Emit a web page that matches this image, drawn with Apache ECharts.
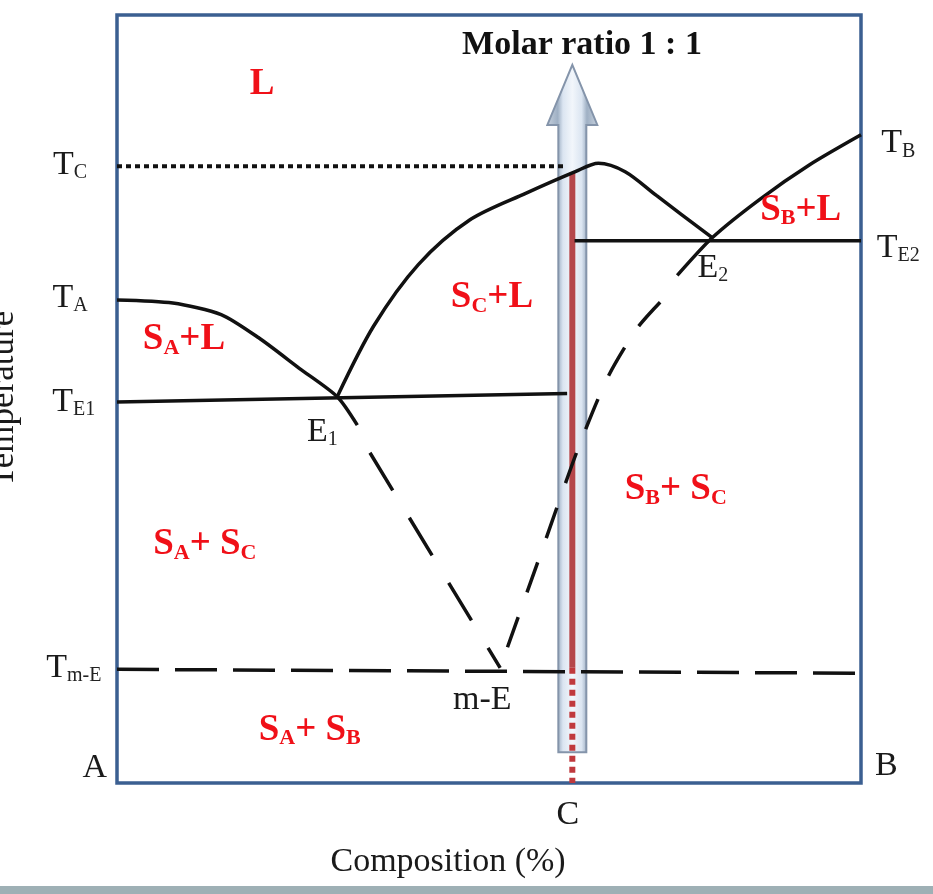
<!DOCTYPE html>
<html><head><meta charset="utf-8">
<script src="https://cdn.jsdelivr.net/npm/echarts@6/dist/echarts.min.js"></script>
<style>html,body{margin:0;padding:0;background:#fff}#c{width:933px;height:894px}</style>
</head><body><div id="c"></div>
<script>
// Composition (x, 0-100 %) vs temperature (y, arbitrary 0-100)
const liquidusA = [[0,62.9],[7.5,62.5],[14,61.0],[19,58.0],[24.5,54.0],[29.6,50.3],[32.3,46.6]];
const liquidusC = [[29.6,50.3],[34.5,59.5],[40.5,67.5],[47.4,73.3],[55,76.8],[61.6,79.6],[64.7,80.7],[68.3,79.6],[72.5,76.5],[80.0,71.0]];
const liquidusB = [[75.3,66.1],[80.0,71.0],[86.4,76.0],[93.1,80.5],[100,84.4]];
const metastableA = [[34.0,43.0],[51.5,15.0]];
const metastableB = [[73.0,62.6],[69.9,59.2],[65.9,52.7],[61.8,43.1],[56.9,29.7],[51.5,15.0]];
const eutecticE1 = [[0,49.6],[60.5,50.7]];
const eutecticE2 = [[61.5,70.6],[100,70.6]];
const meltingC = [[0,80.3],[60.3,80.3]];
const metaEutectic = [[0,14.8],[100,14.3]];
const compositionC = 61.2;
const redSolid = [[compositionC,79.5],[compositionC,15.0]];
const redDotted = [[compositionC,15.0],[compositionC,0]];
const arrowSpan = [[compositionC,4.0,93.5]];

const serif = '"Liberation Serif","Times New Roman",serif';
const RED = '#f01018';
const black = {t:{fontFamily:serif,fontSize:34,color:'#1a1a1a'}, s:{fontFamily:serif,fontSize:20,color:'#222',padding:[16,0,0,0]}};
const redR = {t:{fontFamily:serif,fontSize:37,fontWeight:'bold',color:RED}, s:{fontFamily:serif,fontSize:22,fontWeight:'bold',color:RED,padding:[17,0,0,0]}};

// annotation texts: [text, x, y, rich style]
const annotations = [
  ['{t|L}', 19.5, 90.9, redR],
  ['{t|S}{s|A}{t|+L}', 9.0, 57.7, redR],
  ['{t|S}{s|C}{t|+L}', 50.4, 63.2, redR],
  ['{t|S}{s|B}{t|+L}', 91.9, 74.6, redR],
  ['{t|S}{s|A}{t|+ S}{s|C}', 11.8, 31.0, redR],
  ['{t|S}{s|B}{t|+ S}{s|C}', 75.1, 38.2, redR],
  ['{t|S}{s|A}{t|+ S}{s|B}', 25.9, 6.9, redR],
  ['{t|E}{s|1}', 27.6, 45.7, black],
  ['{t|E}{s|2}', 80.1, 67.1, black],
  ['{t|m-E}', 49.1, 10.8, black],
  ['{t|T}{s|C}', -6.3, 80.5, black],
  ['{t|T}{s|A}', -6.3, 63.2, black],
  ['{t|T}{s|E1}', -5.8, 49.6, black],
  ['{t|T}{s|m-E}', -5.8, 15.0, black],
  ['{t|A}', -3.0, 2.0, black],
  ['{t|B}', 103.4, 2.2, black],
  ['{t|T}{s|B}', 105.0, 83.3, black],
  ['{t|T}{s|E2}', 105.0, 69.7, black],
  ['{t|C}', 60.6, -4.2, black],
  ['{t|Composition (%)}', 44.5, -10.3, black]
];

const chart = echarts.init(document.getElementById('c'), null, {renderer:'canvas'});
function lineS(data, opt){
  return Object.assign({type:'line', data, symbol:'none', silent:true, z:5, animation:false,
    lineStyle:{color:'#111', width:3.5}}, opt||{});
}
const hidden = {type:'scatter', clip:false, silent:true, z:10, symbol:'circle', symbolSize:0,
  itemStyle:{color:'rgba(0,0,0,0)', opacity:1}, animation:false};
const series = [
  {type:'custom', data:arrowSpan, z:1, silent:true, animation:false,
   renderItem(params, api){
     const top = api.coord([api.value(0), api.value(2)]);
     const bot = api.coord([api.value(0), api.value(1)]);
     const x = top[0], sw=14, hw=25, hh=60;
     return {type:'polygon', shape:{points:[[x,top[1]],[x+hw,top[1]+hh],[x+sw,top[1]+hh],[x+sw,bot[1]],[x-sw,bot[1]],[x-sw,top[1]+hh],[x-hw,top[1]+hh]]},
       style:{fill:{type:'linear',x:0,y:0,x2:1,y2:0,colorStops:[
         {offset:0,color:'#c8d2de'},{offset:0.22,color:'#9fb0c4'},{offset:0.32,color:'#dbe5f1'},
         {offset:0.5,color:'#f2f6fb'},{offset:0.68,color:'#dbe5f1'},{offset:0.78,color:'#9fb0c4'},{offset:1,color:'#c8d2de'}]},
         stroke:'#8494aa', lineWidth:2}};
   }},
  lineS(redSolid, {z:2, lineStyle:{color:'#b5474b', width:6}}),
  lineS(redDotted, {z:2, lineStyle:{color:'#c0393d', width:6, type:[6,5]}}),
  lineS(liquidusA, {smooth:0.25}),
  lineS(liquidusC, {smooth:0.3}),
  lineS(liquidusB, {smooth:0.25}),
  lineS(metastableA, {lineStyle:{color:'#111', width:3.5, type:[44,32]}}),
  lineS(metastableB, {smooth:0.25, lineStyle:{color:'#111', width:3.5, type:[32,26]}}),
  lineS(eutecticE1),
  lineS(eutecticE2),
  lineS(meltingC, {lineStyle:{color:'#111', width:4, type:[5,4]}}),
  lineS(metaEutectic, {lineStyle:{color:'#111', width:3.5, type:[42,16]}}),
  Object.assign({}, hidden, {
   data: annotations.map(a => ({value:[a[1],a[2]], label:{show:true, position:'inside', formatter:a[0], rich:a[3]}}))}),
  Object.assign({}, hidden, {
   data:[{value:[62.5,96.1], label:{show:true, position:'inside', formatter:'Molar ratio 1 : 1',
     fontFamily:serif, fontSize:34, fontWeight:'bold', color:'#111'}}]}),
  Object.assign({}, hidden, {
   data:[{value:[-15.2,50], label:{show:true, position:'inside', rotate:90, formatter:'Temperature',
     fontFamily:serif, fontSize:35, color:'#1a1a1a'}}]})
];
chart.setOption({
  animation:false,
  grid:{left:117, right:72, top:15, bottom:111, show:true, borderColor:'#3b5f91', borderWidth:3.5, backgroundColor:'transparent'},
  xAxis:{type:'value', min:0, max:100, show:false},
  yAxis:{type:'value', min:0, max:100, show:false},
  graphic:[{type:'rect', left:0, bottom:0, shape:{width:933, height:8}, style:{fill:'#9eb0b5'}}],
  series
});
</script></body></html>
